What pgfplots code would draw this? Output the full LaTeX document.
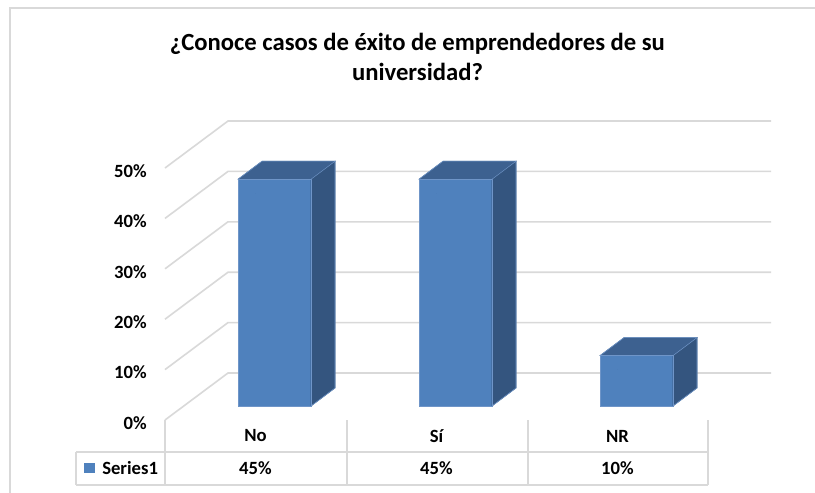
\documentclass[border=0pt]{standalone}
\usepackage{pgfplots}
\pgfplotsset{compat=1.18}
\usepackage{pgfplotstable}
\usepackage{fontspec}
\setmainfont{Carlito}
\usetikzlibrary{calc}
\definecolor{frontc}{HTML}{4F81BD}
\definecolor{topc}{HTML}{3D6190}
\definecolor{sidec}{HTML}{34557F}
\definecolor{edgec}{HTML}{6F95C8}
\definecolor{gridc}{HTML}{D9D9D9}
\pgfplotstableread{
x val
0.5 45
1.5 45
2.5 10
}\data
\begin{document}
\begin{tikzpicture}
\useasboundingbox (0,0) rectangle (611.25pt,-369.75pt);
\fill[white] (0,0) rectangle (611.25pt,-369.75pt);
\draw[gridc, line width=1.5pt] (7.5pt,-375pt) -- (7.5pt,-6pt) -- (615pt,-6pt);
% title
\node[anchor=base, font=\fontsize{18.5}{22}\selectfont\bfseries] at (313.1pt,-37.5pt) {¿Conoce casos de éxito de emprendedores de su};
\node[anchor=base, font=\fontsize{18.5}{22}\selectfont\bfseries] at (313.1pt,-60pt) {universidad?};
\begin{axis}[
  at={(123.75pt,-315pt)}, anchor=south west,
  scale only axis, width=407.25pt, height=189pt,
  xmin=0, xmax=3, ymin=0, ymax=50,
  axis line style={draw=none},
  major tick length=0pt,
  clip=false,
  ytick={0,10,20,30,40,50},
  yticklabels={0\%,10\%,20\%,30\%,40\%,50\%},
  yticklabel style={anchor=east, inner sep=0pt, xshift=-13.5pt, yshift=-2.25pt},
  xtick={0.5,1.5,2.5},
  xticklabels={No,Sí,NR},
  xticklabel style={anchor=center, inner sep=0pt, yshift=-12pt},
  tick label style={font=\fontsize{14}{16}\selectfont\bfseries},
]
\pgfplotsinvokeforeach{0,10,20,30,40,50}{
  \draw[gridc, line width=1.2pt] (axis cs:0,#1) -- ++(47.25pt,35.25pt) -- ([shift={(47.25pt,35.25pt)}]axis cs:3,#1);
}
\addplot[
  only marks, mark=*, mark size=0pt, mark options={draw=none, fill=none},
  scatter,
  visualization depends on={rawy \as \val},
  scatter/@pre marker code/.code={%
    \begin{scope}
    \path let \p1=(axis direction cs:0,\val) in
      coordinate (fbl) at (-13.125pt,{10.5pt-\y1})
      coordinate (fbr) at (41.625pt,{10.5pt-\y1})
      coordinate (bbr) at (59.625pt,{24pt-\y1});
    \fill[frontc] (fbl) rectangle (41.625pt,10.5pt);
    \fill[topc] (-13.125pt,10.5pt) -- (41.625pt,10.5pt) -- (59.625pt,24pt) -- (4.875pt,24pt) -- cycle;
    \fill[sidec] (fbr) -- (bbr) -- (59.625pt,24pt) -- (41.625pt,10.5pt) -- cycle;
    \draw[edgec, line width=0.4pt, line join=round] (fbl) rectangle (41.625pt,10.5pt);
    \draw[edgec, line width=0.4pt, line join=round] (-13.125pt,10.5pt) -- (4.875pt,24pt) -- (59.625pt,24pt) -- (bbr) -- (fbr);
    \draw[edgec, line width=0.4pt] (41.625pt,10.5pt) -- (59.625pt,24pt);
  },
  scatter/@post marker code/.code={\end{scope}},
] table[x=x, y=val] \data;
\addplot[draw=none, mark=none,
  point meta=explicit symbolic,
  nodes near coords={\pgfplotspointmeta\%},
  every node near coord/.append style={anchor=center, inner sep=0pt, yshift=-36.4pt, font=\fontsize{14}{16}\selectfont\bfseries},
] table[x=x, y expr=0, meta=val] \data;
\end{axis}
% data table lines
\begin{scope}[gridc, line width=1.3pt]
\draw (123.75pt,-315pt) -- (123.75pt,-363.75pt);
\draw (260.25pt,-315pt) -- (260.25pt,-363.75pt);
\draw (396pt,-315pt) -- (396pt,-363.75pt);
\draw (531pt,-315pt) -- (531pt,-363.75pt);
\draw (57pt,-339pt) -- (57pt,-363.75pt);
\draw (57pt,-339pt) -- (531pt,-339pt);
\draw (57pt,-363.75pt) -- (531pt,-363.75pt);
\end{scope}
\fill[frontc] (63pt,-347.25pt) rectangle (71.25pt,-354.75pt);
\node[anchor=west, inner sep=0pt, font=\fontsize{14}{16}\selectfont\bfseries] at (76.5pt,-351pt) {Series1};
\end{tikzpicture}
\end{document}
